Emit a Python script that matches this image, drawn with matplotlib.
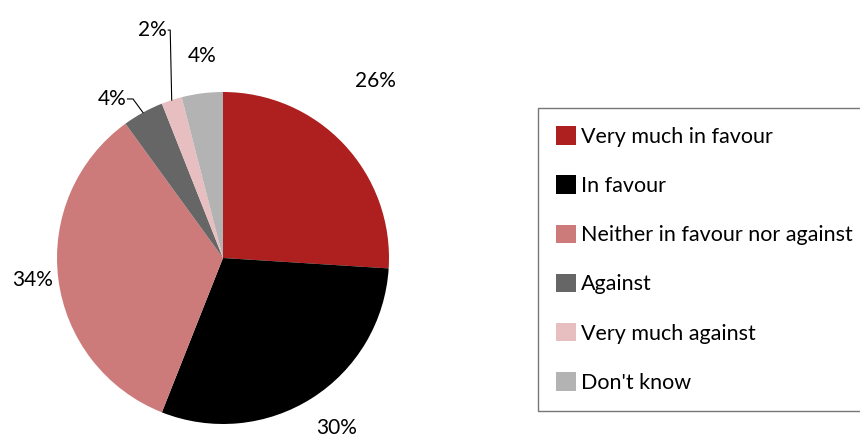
import matplotlib
matplotlib.use('Agg')
import matplotlib.pyplot as plt

plt.rcParams['font.family'] = ['Lato', 'DejaVu Sans']

categories = ['Very much in favour', 'In favour', 'Neither in favour nor against',
              'Against', 'Very much against', "Don't know"]
values = [26, 30, 34, 4, 2, 4]
colors = ['#AE1F1F', '#000000', '#CD7B7A', '#666666', '#E8BFC0', '#B3B3B3']

# label positions (data coords, pie radius = 1)
label_pos = [(0.916, 1.066), (0.687, -1.024), (-1.145, -0.133),
             (-0.669, 0.958), (-0.428, 1.373), (-0.127, 1.217)]

fig = plt.figure(figsize=(8.6, 4.37), dpi=100)
W, H = 860, 437
cx, cy, r = 223, 258, 166
ax = fig.add_axes([(cx - r) / W, (H - cy - r) / H, 2 * r / W, 2 * r / H])

wedges, _ = ax.pie(values, colors=colors, startangle=90, counterclock=False,
                   radius=1, wedgeprops=dict(linewidth=0))
ax.set_xlim(-1, 1)
ax.set_ylim(-1, 1)
ax.set_aspect('equal')
ax.axis('off')

for v, (x, y) in zip(values, label_pos):
    ax.text(x, y, f'{v}%', ha='center', va='center', fontsize=15, clip_on=False)

# leader lines for the small slices
ax.plot([-0.330, -0.318, -0.309], [1.373, 1.373, 0.951], color='black', lw=0.8, clip_on=False)
ax.plot([-0.575, -0.542, -0.482], [0.958, 0.958, 0.876], color='black', lw=0.8, clip_on=False)

leg = fig.legend(wedges, categories, loc='upper left',
                 bbox_to_anchor=(538 / W, 1 - 108 / H), fontsize=15.5,
                 frameon=True, fancybox=False, edgecolor='#555555',
                 handlelength=0.93, handleheight=0.93, handletextpad=0.2,
                 labelspacing=1.33, borderpad=0.85, borderaxespad=0)
leg.get_frame().set_linewidth(1.0)

fig.savefig('out.png', dpi=100)
